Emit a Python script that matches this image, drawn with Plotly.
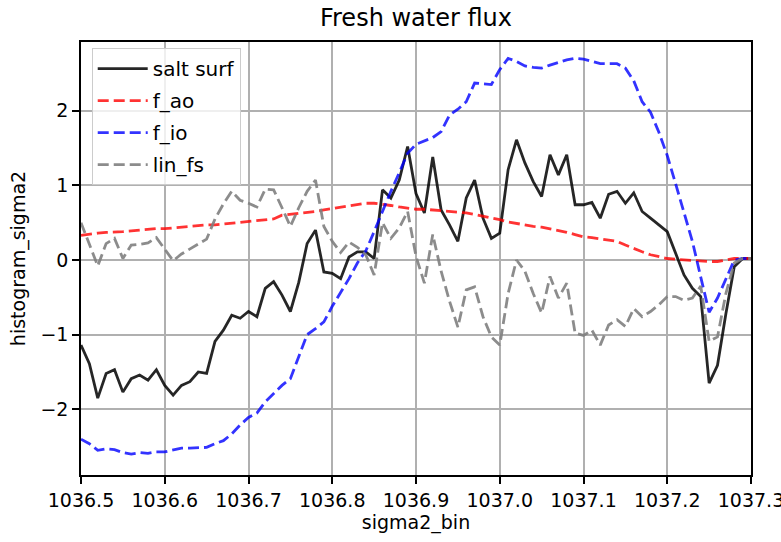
import plotly.graph_objects as go

sigma2_bin = [round(1036.5 + 0.01 * i, 2) for i in range(81)]

salt_surf = [-1.14, -1.39, -1.85, -1.52, -1.47, -1.77, -1.59, -1.54, -1.61, -1.47,
             -1.68, -1.81, -1.68, -1.63, -1.50, -1.52, -1.09, -0.94, -0.74, -0.78,
             -0.69, -0.76, -0.38, -0.29, -0.47, -0.69, -0.30, 0.22, 0.40, -0.16,
             -0.18, -0.25, 0.04, 0.11, 0.11, 0.02, 0.94, 0.83, 1.07, 1.52,
             0.89, 0.63, 1.38, 0.67, 0.47, 0.25, 0.83, 1.07, 0.56, 0.29,
             0.36, 1.21, 1.61, 1.30, 1.05, 0.85, 1.41, 1.14, 1.41, 0.74,
             0.74, 0.77, 0.56, 0.88, 0.92, 0.76, 0.90, 0.65, 0.56, 0.47,
             0.38, 0.09, -0.20, -0.38, -0.49, -1.65, -1.41, -0.72, -0.09, 0.02, 0.02]

f_ao = [0.33, 0.35, 0.36, 0.37, 0.37, 0.38, 0.39, 0.40, 0.41, 0.42,
        0.42, 0.43, 0.44, 0.45, 0.46, 0.47, 0.47, 0.48, 0.49, 0.50,
        0.51, 0.52, 0.53, 0.55, 0.60, 0.61, 0.62, 0.63, 0.65, 0.67,
        0.69, 0.71, 0.73, 0.74, 0.76, 0.76, 0.75, 0.73, 0.71, 0.69,
        0.68, 0.68, 0.67, 0.66, 0.65, 0.64, 0.63, 0.61, 0.59, 0.56,
        0.54, 0.51, 0.49, 0.46, 0.45, 0.44, 0.42, 0.40, 0.37, 0.34,
        0.31, 0.30, 0.28, 0.27, 0.25, 0.20, 0.15, 0.11, 0.07, 0.04,
        0.02, 0.01, 0.00, -0.01, -0.02, -0.02, -0.02, 0.00, 0.02, 0.02, 0.02]

f_io = [-2.40, -2.46, -2.55, -2.53, -2.54, -2.58, -2.60, -2.58, -2.59, -2.57,
        -2.57, -2.55, -2.52, -2.52, -2.52, -2.51, -2.46, -2.42, -2.33, -2.21,
        -2.11, -2.05, -1.90, -1.79, -1.68, -1.59, -1.30, -1.00, -0.92, -0.83,
        -0.62, -0.43, -0.25, -0.04, 0.12, 0.38, 0.66, 0.92, 1.17, 1.43,
        1.55, 1.60, 1.64, 1.72, 1.94, 2.02, 2.12, 2.37, 2.36, 2.35,
        2.55, 2.70, 2.66, 2.60, 2.58, 2.57, 2.61, 2.65, 2.68, 2.70,
        2.69, 2.66, 2.63, 2.63, 2.63, 2.57, 2.40, 2.12, 1.98, 1.71,
        1.40, 1.02, 0.63, 0.25, -0.23, -0.70, -0.51, -0.25, 0.00, 0.02, 0.02]

lin_fs = [0.50, 0.20, -0.08, 0.22, 0.29, 0.02, 0.20, 0.21, 0.23, 0.30,
          0.14, -0.01, 0.08, 0.15, 0.22, 0.28, 0.55, 0.75, 0.92, 0.80,
          0.76, 0.71, 0.95, 0.94, 0.70, 0.45, 0.70, 0.92, 1.07, 0.45,
          0.25, 0.10, 0.24, 0.17, 0.07, -0.20, 0.50, 0.29, 0.43, 0.65,
          0.05, -0.31, 0.34, -0.15, -0.55, -0.90, -0.40, -0.36, -0.76, -1.03,
          -1.14, -0.45, 0.00, -0.15, -0.45, -0.71, -0.22, -0.51, -0.31, -0.98,
          -1.01, -0.94, -1.14, -0.87, -0.80, -0.89, -0.65, -0.76, -0.69, -0.60,
          -0.49, -0.49, -0.54, -0.51, -0.35, -1.09, -1.03, -0.45, -0.04, 0.02, 0.02]

x_ticks = [1036.5, 1036.6, 1036.7, 1036.8, 1036.9, 1037.0, 1037.1, 1037.2, 1037.3]
x_ticktext = ["1036.5", "1036.6", "1036.7", "1036.8", "1036.9",
              "1037.0", "1037.1", "1037.2", "1037.3"]
y_ticks = [-2, -1, 0, 1, 2]
y_ticktext = ["\u22122", "\u22121", "0", "1", "2"]

FONT = "DejaVu Sans"
DASH = "11px,5px"

series = [
    ("salt surf", salt_surf, "rgba(0,0,0,0.85)", "solid"),
    ("f_ao", f_ao, "rgba(255,0,0,0.8)", DASH),
    ("f_io", f_io, "rgba(0,0,255,0.8)", DASH),
    ("lin_fs", lin_fs, "rgba(128,128,128,0.9)", DASH),
]

fig = go.Figure()
for name, vals, color, dash in series:
    fig.add_trace(go.Scatter(x=sigma2_bin, y=vals, mode="lines", name=name,
                             legendgroup=name,
                             line=dict(color=color, width=2.8, dash=dash)))

axis_common = dict(
    showline=True, linecolor="black", linewidth=1.6, mirror=True,
    showgrid=True, gridcolor="#b0b0b0", gridwidth=1.6,
    ticks="outside", ticklen=7, tickwidth=1.6, tickcolor="black",
    zeroline=False, automargin=False, ticklabeloverflow="allow",
    tickfont=dict(family=FONT, size=19, color="black"),
    title_font=dict(family=FONT, size=19, color="black"),
)

fig.update_layout(
    width=781, height=542,
    margin=dict(l=81, r=30, t=42, b=67, autoexpand=False),
    paper_bgcolor="white", plot_bgcolor="white",
    font=dict(family=FONT, color="black"),
    title=dict(text="Fresh water flux", x=0.5, xref="paper", xanchor="center",
               y=1 - 18 / 542, yref="container", yanchor="middle",
               font=dict(family=FONT, size=24, color="black")),
    xaxis=dict(range=[1036.5, 1037.3], tickvals=x_ticks, ticktext=x_ticktext,
               title=dict(text="sigma2_bin", standoff=6), **axis_common),
    yaxis=dict(range=[-2.88, 2.92], tickvals=y_ticks, ticktext=y_ticktext,
               title=dict(text="histogram_sigma2", standoff=10), **axis_common),
    legend=dict(x=0.016, y=0.986, xanchor="left", yanchor="top",
                bgcolor="rgba(255,255,255,0.8)", bordercolor="#cccccc", borderwidth=1,
                font=dict(family=FONT, size=20, color="black"),
                itemwidth=50, tracegroupgap=3),
    showlegend=True,
)

fig.write_html("out.html", config={"displayModeBar": False},
               post_script="document.body.style.margin='0';document.body.style.overflow='hidden';")
